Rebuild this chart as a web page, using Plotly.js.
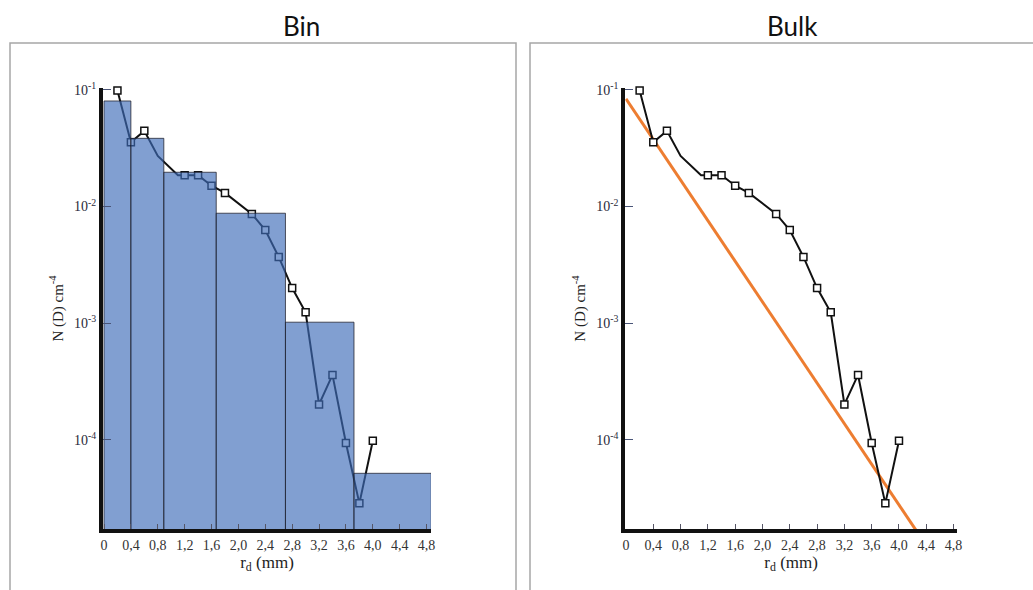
<!DOCTYPE html>
<html>
<head>
<meta charset="utf-8">
<script src="https://cdn.plot.ly/plotly-3.0.1.min.js"></script>
<style>
  html, body { margin: 0; padding: 0; background: #ffffff; }
  #chart { width: 1033px; height: 590px; }
</style>
</head>
<body>
<div id="chart"></div>
<script>
// ---- data ----
var dropX = [0.2, 0.4, 0.6, 0.8, 1.1, 1.2, 1.4, 1.6, 1.8, 2.2, 2.4, 2.6, 2.8, 3.0, 3.2, 3.4, 3.6, 3.8, 4.0];
var dropY = [0.099, 0.0356, 0.0446, 0.0272, 0.0186, 0.0186, 0.0186, 0.0151, 0.0131, 0.00865, 0.0063, 0.0037, 0.0020, 0.00124, 0.000201, 0.00036, 0.000094, 0.0000285, 0.000098];
var unmarkedX = [0.8, 1.1];            // line vertices drawn without a square marker

var binEdges = [0, 0.4, 0.89, 1.67, 2.7, 3.72, 4.87];
var binValues = [0.0805, 0.0385, 0.0197, 0.00877, 0.00102, 0.0000516];

var fitX = [0, 4.4];
var fitY = [0.084, 0.0000124];

var xTickVals = [0, 0.4, 0.8, 1.2, 1.6, 2.0, 2.4, 2.8, 3.2, 3.6, 4.0, 4.4, 4.8];
var xTickText = ['0', '0,4', '0,8', '1,2', '1,6', '2,0', '2,4', '2,8', '3,2', '3,6', '4,0', '4,4', '4,8'];
var yTickVals = [1e-1, 1e-2, 1e-3, 1e-4];
var yTickText = ['10<sup>-1</sup>', '10<sup>-2</sup>', '10<sup>-3</sup>', '10<sup>-4</sup>'];

var panelTitles = ['Bin', 'Bulk'];

// ---- derived ----
var binCenters = [], binWidths = [];
for (var i = 0; i < binValues.length; i++) {
  binCenters.push((binEdges[i] + binEdges[i + 1]) / 2);
  binWidths.push(binEdges[i + 1] - binEdges[i]);
}
var markX = [], markY = [];
for (var j = 0; j < dropX.length; j++) {
  if (unmarkedX.indexOf(dropX[j]) === -1) { markX.push(dropX[j]); markY.push(dropY[j]); }
}

var W = 1033, H = 590;
var serif = '"Liberation Serif", "DejaVu Serif", serif';
var yRange = [-4.765, -0.983];
var leftDom = [103 / W, 431 / W];
var rightDom = [625.3 / W, 957 / W];
var yDom = [1 - 529 / H, 1 - 88 / H];
var leftXRange = [-0.015, 4.866];
var rightXRange = [-0.01, 4.85];

var lineStyle = { color: '#111111', width: 2 };
var markerStyle = { symbol: 'square', size: 7, color: '#ffffff', line: { color: '#111111', width: 1.5 } };

function visXAxis(dom, rng, anchor) {
  return {
    domain: dom, range: rng, anchor: anchor,
    tickmode: 'array', tickvals: xTickVals, ticktext: xTickText,
    ticks: 'inside', ticklen: 5, tickwidth: 1, tickcolor: '#555566',
    showline: true, linewidth: 4, linecolor: '#111111',
    showgrid: false, zeroline: false,
    tickfont: { family: serif, size: 14, color: '#333333' },
    title: { text: 'r<sub>d</sub> (mm)', font: { family: serif, size: 17, color: '#222222' }, standoff: 4 },
    fixedrange: true
  };
}
function visYAxis(anchor) {
  return {
    domain: yDom, type: 'log', range: yRange, anchor: anchor,
    tickmode: 'array', tickvals: yTickVals, ticktext: yTickText,
    ticks: 'inside', ticklen: 8, tickwidth: 1, tickcolor: '#4a5578',
    showline: true, linewidth: 4, linecolor: '#111111',
    showgrid: false, zeroline: false,
    tickfont: { family: serif, size: 14, color: '#2a2a3a' },
    title: { text: 'N (D) cm<sup>-4</sup>', font: { family: serif, size: 15, color: '#222222' }, standoff: 8 },
    fixedrange: true
  };
}

var traces = [
  // left panel: drop line (under bars)
  { x: dropX, y: dropY, xaxis: 'x', yaxis: 'y', mode: 'lines', line: lineStyle, cliponaxis: false, hoverinfo: 'x+y', showlegend: false },
  { x: markX, y: markY, xaxis: 'x', yaxis: 'y', mode: 'markers', marker: markerStyle, cliponaxis: false, hoverinfo: 'x+y', showlegend: false },
  // left panel: bins on overlaying axes so they sit above the line
  { type: 'bar', x: binCenters, y: binValues, width: binWidths, xaxis: 'x2', yaxis: 'y2',
    marker: { color: 'rgba(61,108,185,0.65)', line: { color: 'rgba(30,30,40,0.75)', width: 1 } },
    hoverinfo: 'y', showlegend: false },
  // right panel
  { x: fitX, y: fitY, xaxis: 'x3', yaxis: 'y3', mode: 'lines', line: { color: '#ED7D31', width: 3 }, hoverinfo: 'x+y', showlegend: false },
  { x: dropX, y: dropY, xaxis: 'x3', yaxis: 'y3', mode: 'lines', line: lineStyle, cliponaxis: false, hoverinfo: 'x+y', showlegend: false },
  { x: markX, y: markY, xaxis: 'x3', yaxis: 'y3', mode: 'markers', marker: markerStyle, cliponaxis: false, hoverinfo: 'x+y', showlegend: false }
];

var layout = {
  width: W, height: H,
  margin: { l: 0, r: 0, t: 0, b: 0 },
  paper_bgcolor: '#ffffff', plot_bgcolor: 'rgba(0,0,0,0)',
  showlegend: false, bargap: 0,
  xaxis: visXAxis(leftDom, leftXRange, 'y'),
  yaxis: visYAxis('x'),
  xaxis2: { overlaying: 'x', anchor: 'y2', range: leftXRange, visible: false, fixedrange: true },
  yaxis2: { overlaying: 'y', anchor: 'x2', type: 'log', range: yRange, visible: false, fixedrange: true },
  xaxis3: visXAxis(rightDom, rightXRange, 'y3'),
  yaxis3: visYAxis('x3'),
  shapes: [
    { type: 'rect', xref: 'paper', yref: 'paper', x0: 10 / W, x1: 516 / W, y0: -0.1, y1: 1 - 43 / H,
      line: { color: '#a6a6a6', width: 1.5 }, fillcolor: 'rgba(0,0,0,0)', layer: 'below' },
    { type: 'rect', xref: 'paper', yref: 'paper', x0: 530 / W, x1: 1.1, y0: -0.1, y1: 1 - 43 / H,
      line: { color: '#a6a6a6', width: 1.5 }, fillcolor: 'rgba(0,0,0,0)', layer: 'below' }
  ],
  annotations: [
    { text: panelTitles[0], xref: 'paper', yref: 'paper', x: 301 / W, y: 1 - 26 / H, showarrow: false,
      xanchor: 'center', yanchor: 'middle', font: { family: 'Lato, "Open Sans", sans-serif', size: 26, color: '#111111' } },
    { text: panelTitles[1], xref: 'paper', yref: 'paper', x: 792 / W, y: 1 - 26 / H, showarrow: false,
      xanchor: 'center', yanchor: 'middle', font: { family: 'Lato, "Open Sans", sans-serif', size: 26, color: '#111111' } }
  ]
};

Plotly.newPlot('chart', traces, layout, { displayModeBar: false, staticPlot: true });
</script>
</body>
</html>
